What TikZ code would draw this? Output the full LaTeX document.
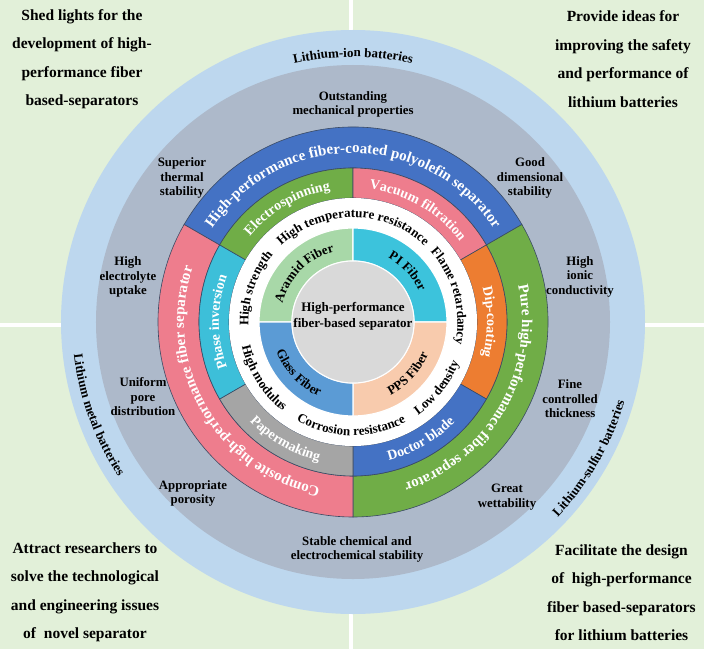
\documentclass[tikz,border=0pt]{standalone}
\usepackage{fontspec}
\setmainfont{Liberation Serif}
\usetikzlibrary{decorations.text}
\definecolor{panel}{HTML}{E2F0D9}
\definecolor{outerblue}{HTML}{BDD7EE}
\definecolor{ringgray}{HTML}{ADB9CA}
\definecolor{catblue}{HTML}{4472C4}
\definecolor{catpink}{HTML}{EE7D8D}
\definecolor{catgreen}{HTML}{70AD47}
\definecolor{procorange}{HTML}{ED7D31}
\definecolor{procgray}{HTML}{A5A5A5}
\definecolor{proccyan}{HTML}{3DBFD9}
\definecolor{fibgreen}{HTML}{A8D8A8}
\definecolor{fibcyan}{HTML}{3CC3DC}
\definecolor{fibpeach}{HTML}{F8CBAD}
\definecolor{fibblue}{HTML}{5B9BD5}
\definecolor{coregray}{HTML}{D9D9D9}
\definecolor{segline}{HTML}{3A4A63}
\newcommand{\ringseg}[5]{\filldraw[fill=#1,draw=segline,line width=0.6pt] (#2:#4pt) arc[start angle=#2,end angle=#3,radius=#4pt] -- (#3:#5pt) arc[start angle=#3,end angle=#2,radius=#5pt] -- cycle;}
\newcommand{\fibseg}[5]{\filldraw[fill=#1,draw=white,line width=1.2pt] (#2:#4pt) arc[start angle=#2,end angle=#3,radius=#4pt] -- (#3:#5pt) arc[start angle=#3,end angle=#2,radius=#5pt] -- cycle;}
\newcommand{\cwtext}[6]{\path[decorate,decoration={text along path,text align=center,text color=#5,text={|\bfseries\fontsize{#4}{#4}\selectfont|#6}}] (#1+#3:#2pt) arc[start angle=#1+#3,end angle=#1-#3,radius=#2pt];}
\newcommand{\ccwtext}[6]{\path[decorate,decoration={text along path,text align=center,text color=#5,text={|\bfseries\fontsize{#4}{#4}\selectfont|#6}}] (#1-#3:#2pt) arc[start angle=#1-#3,end angle=#1+#3,radius=#2pt];}
\tikzset{
  quadtext/.style={font=\bfseries\fontsize{15.5}{28.5}\selectfont,align=center,text=black},
  graylbl/.style={font=\bfseries\fontsize{12.8}{14.5}\selectfont,align=center,text=black},
  corelbl/.style={font=\bfseries\fontsize{13}{16}\selectfont,align=center,text=black}
}
\begin{document}
\begin{tikzpicture}[x=1pt,y=1pt]
\useasboundingbox (-353,-329) rectangle (353,322);
\fill[white] (-353,-329) rectangle (353,322);
% background panels
\fill[panel] (-353,322) rectangle (-4,-1);
\fill[panel] (0,322) rectangle (351,-1);
\fill[panel] (-353,-5) rectangle (-4,-327);
\fill[panel] (0,-5) rectangle (351,-327);
% outer rings
\fill[outerblue] (0,0) circle[radius=292pt];
\fill[ringgray] (0,0) circle[radius=257pt];
% category ring
\ringseg{catblue}{30}{150}{154}{195}
\ringseg{catgreen}{-90}{30}{154}{195}
\ringseg{catpink}{150}{270}{154}{195}
% process ring
\ringseg{catgreen}{90}{150}{124}{154}
\ringseg{catpink}{30}{90}{124}{154}
\ringseg{procorange}{-30}{30}{124}{154}
\ringseg{catblue}{-90}{-30}{124}{154}
\ringseg{procgray}{210}{270}{124}{154}
\ringseg{proccyan}{150}{210}{124}{154}
% white ring
\fill[white] (0,0) circle[radius=124pt];
% fiber ring
\fibseg{fibgreen}{90}{180}{61}{94}
\fibseg{fibcyan}{0}{90}{61}{94}
\fibseg{fibpeach}{-90}{0}{61}{94}
\fibseg{fibblue}{180}{270}{61}{94}
\filldraw[fill=coregray,draw=white,line width=1pt] (0,0) circle[radius=61pt];
\node[corelbl] (core) at (0,6) {High-performance\\fiber-based separator};
% outer ring labels
\cwtext{90}{265}{60}{13}{black}{Lithium-ion batteries}
\ccwtext{200}{281}{40}{13}{black}{Lithium metal batteries}
\ccwtext{-30}{283}{40}{13}{black}{Lithium-sulfur batteries}
% category labels
\cwtext{90}{169}{85}{15}{white}{High-performance fiber-coated polyolefin separator}
\cwtext{-30}{169}{85}{15}{white}{Pure high-performance fiber separator}
\cwtext{210}{169}{85}{15}{white}{Composite high-performance fiber separator}
% process labels
\cwtext{120}{134}{80}{14}{white}{Electrospinning}
\cwtext{60}{134}{80}{14}{white}{Vacuum filtration}
\cwtext{0}{134}{80}{14}{white}{Dip-coating}
\ccwtext{-60}{143}{80}{14}{white}{Doctor blade}
\ccwtext{240}{143}{80}{14}{white}{Papermaking}
\cwtext{180}{134}{80}{14}{white}{Phase inversion}
% white ring labels
\cwtext{90}{104.5}{80}{13}{black}{High temperature resistance}
\cwtext{15}{104.5}{80}{13}{black}{Flame retardancy}
\ccwtext{-38}{113.5}{80}{13}{black}{Low density}
\ccwtext{-91}{113.5}{80}{13}{black}{Corrosion resistance}
\ccwtext{212}{113.5}{80}{13}{black}{High modulus}
\cwtext{161}{104.5}{80}{13}{black}{High strength}
% fiber labels
\cwtext{135}{73}{80}{13}{black}{Aramid Fiber}
\cwtext{43}{73}{80}{13}{black}{PI Fiber}
\ccwtext{223}{82}{80}{13}{black}{Glass Fiber}
\ccwtext{-43}{82}{80}{13}{black}{PPS Fiber}
% gray ring labels
\node[graylbl] (outst) at (0,217.5) {Outstanding\\mechanical properties};
\node[graylbl] (superior) at (-171,144) {Superior\\thermal\\stability};
\node[graylbl] (electro) at (-225,45) {High\\electrolyte\\uptake};
\node[graylbl] (uniform) at (-210,-75) {Uniform\\pore\\distribution};
\node[graylbl] (approp) at (-160,-171.5) {Appropriate\\porosity};
\node[graylbl] (stable) at (4,-227.5) {Stable chemical and\\electrochemical stability};
\node[graylbl] (good) at (177,144) {Good\\dimensional\\stability};
\node[graylbl] (ionic) at (227,45.5) {High\\ionic\\conductivity};
\node[graylbl] (fine) at (217,-77) {Fine\\controlled\\thickness};
\node[graylbl] (great) at (154,-175) {Great\\wettability};
% quadrant texts
\node[quadtext] (qtl) at (-271,263) {Shed lights for the\\development of high-\\performance fiber\\based-separators};
\node[quadtext] (qtr) at (270,263) {Provide ideas for\\improving the safety\\and performance of\\lithium batteries};
\node[quadtext] (qbl) at (-268,-270.5) {Attract researchers to\\solve the technological\\and engineering issues\\of \ novel separator};
\node[quadtext] (qbr) at (268.5,-270.5) {Facilitate the design\\of \ high-performance\\fiber based-separators\\for lithium batteries};
\end{tikzpicture}
\end{document}
